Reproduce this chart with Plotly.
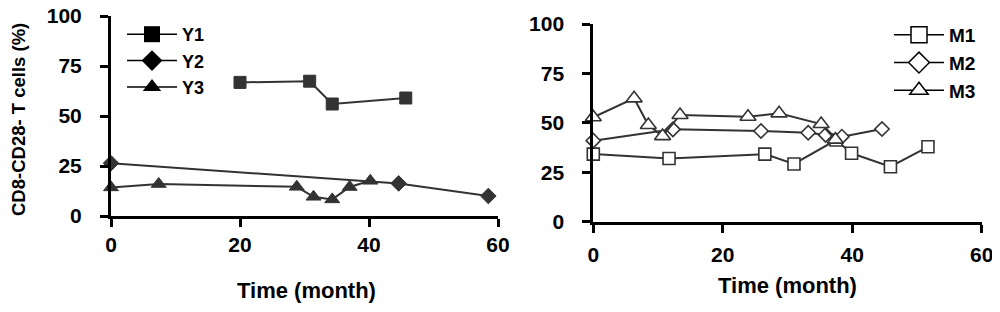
import plotly.graph_objects as go

# ---- data ----
y1_x = [20.0, 30.8, 34.3, 45.7]
y1_y = [66.8, 67.4, 56.0, 59.0]
y2_x = [0.0, 44.6, 58.5]
y2_y = [26.4, 16.3, 10.0]
y3_x = [0.0, 7.4, 28.8, 31.4, 34.3, 37.0, 40.2]
y3_y = [14.3, 16.0, 14.6, 9.6, 8.3, 14.5, 17.6]

m1_x = [0.0, 11.7, 26.5, 31.0, 37.5, 39.9, 45.9, 51.7]
m1_y = [34.2, 32.0, 34.2, 29.2, 41.3, 34.6, 27.8, 37.9]
m2_x = [0.0, 12.3, 25.9, 33.2, 35.9, 38.4, 44.6]
m2_y = [41.0, 46.7, 45.9, 45.0, 43.9, 43.0, 46.9]
m3_x = [0.0, 6.3, 8.5, 10.7, 13.4, 23.9, 28.7, 35.2, 37.4]
m3_y = [52.8, 62.4, 48.9, 43.3, 54.0, 53.1, 54.8, 49.4, 41.5]

left_names = ["Y1", "Y2", "Y3"]
right_names = ["M1", "M2", "M3"]
x_ticks = [0, 20, 40, 60]
y_ticks = [0, 25, 50, 75, 100]

LINE = "#333333"
FONT = "Liberation Sans, Arial, sans-serif"

fig = go.Figure()

left_series = [(y1_x, y1_y, "square"), (y2_x, y2_y, "diamond"), (y3_x, y3_y, "triangle-up")]
right_series = [(m1_x, m1_y, "square"), (m2_x, m2_y, "diamond"), (m3_x, m3_y, "triangle-up")]
left_sizes = [12, 12, 13]
right_sizes = [12, 11, 14]

for (xs, ys, sym), name, sz in zip(left_series, left_names, left_sizes):
    fig.add_trace(go.Scatter(x=xs, y=ys, mode="lines+markers", name=name, showlegend=False,
                             line=dict(color=LINE, width=2),
                             marker=dict(symbol=sym, size=sz, color=LINE, line=dict(color=LINE, width=1)),
                             xaxis="x", yaxis="y", cliponaxis=False))
    fig.add_trace(go.Scatter(x=[None], y=[None], mode="lines+markers", name=name, legend="legend",
                             line=dict(color="black", width=1.5),
                             marker=dict(symbol=sym, size=20, color="black"),
                             xaxis="x", yaxis="y"))

for (xs, ys, sym), name, sz in zip(right_series, right_names, right_sizes):
    fig.add_trace(go.Scatter(x=xs, y=ys, mode="lines+markers", name=name, showlegend=False,
                             line=dict(color=LINE, width=2),
                             marker=dict(symbol=sym, size=sz, color="white", line=dict(color=LINE, width=1.6)),
                             xaxis="x2", yaxis="y2", cliponaxis=False))
    fig.add_trace(go.Scatter(x=[None], y=[None], mode="lines+markers", name=name, legend="legend2",
                             line=dict(color="black", width=1.5),
                             marker=dict(symbol=sym, size=20, color="white", line=dict(color="black", width=1.5)),
                             xaxis="x2", yaxis="y2"))

axis_common = dict(showgrid=False, zeroline=False, showline=True, linecolor="black", linewidth=3,
                   ticks="outside", ticklen=8, tickwidth=3, tickcolor="black", automargin=False,
                   ticklabeloverflow="allow",
                   tickfont=dict(family=FONT, size=21, color="black", weight="bold"))

# page body has an 8px default margin; figure is sized/positioned to compensate
OFF = 8
W, H = 1000 - OFF, 312 - OFF


def px(x):
    return (x - OFF) / W


def py(y):
    return 1 - (y - OFF) / H


fig.update_layout(
    width=W, height=H,
    margin=dict(l=0, r=0, t=0, b=0, autoexpand=False),
    paper_bgcolor="white", plot_bgcolor="white",
    xaxis=dict(domain=[px(111), px(498)], range=[0, 60], tickvals=x_ticks, anchor="y",
               ticklabelstandoff=0, **axis_common),
    yaxis=dict(domain=[py(216), py(16)], range=[0, 100], tickvals=y_ticks, anchor="x",
               ticklabelstandoff=14, **axis_common),
    xaxis2=dict(domain=[px(593.3), px(981.7)], range=[0, 60], tickvals=x_ticks, anchor="y2",
                ticklabelstandoff=4, **axis_common),
    yaxis2=dict(domain=[py(221.7), py(24)], range=[0, 100], tickvals=y_ticks, anchor="x2",
                ticklabelstandoff=14, **axis_common),
    legend=dict(x=px(122), y=py(16), xanchor="left", yanchor="top", bgcolor="rgba(0,0,0,0)",
                itemwidth=50, tracegroupgap=0, itemsizing="trace",
                font=dict(family=FONT, size=18, color="black", weight="bold")),
    legend2=dict(x=px(889), y=py(16), xanchor="left", yanchor="top", bgcolor="rgba(0,0,0,0)",
                 itemwidth=50, tracegroupgap=0, itemsizing="trace",
                 font=dict(family=FONT, size=19, color="black", weight="bold")),
    annotations=[
        dict(text="Time (month)", x=px(306), y=py(290), xref="paper", yref="paper", showarrow=False,
             xanchor="center", yanchor="middle",
             font=dict(family=FONT, size=22, color="black", weight="bold")),
        dict(text="Time (month)", x=px(787), y=py(285), xref="paper", yref="paper", showarrow=False,
             xanchor="center", yanchor="middle",
             font=dict(family=FONT, size=22, color="black", weight="bold")),
        dict(text="CD8-CD28- T cells (%)", x=px(18), y=py(120), xref="paper", yref="paper",
             showarrow=False, textangle=-90, xanchor="center", yanchor="middle",
             font=dict(family=FONT, size=18.5, color="black", weight="bold")),
    ],
)

fig.write_html("out.html")
